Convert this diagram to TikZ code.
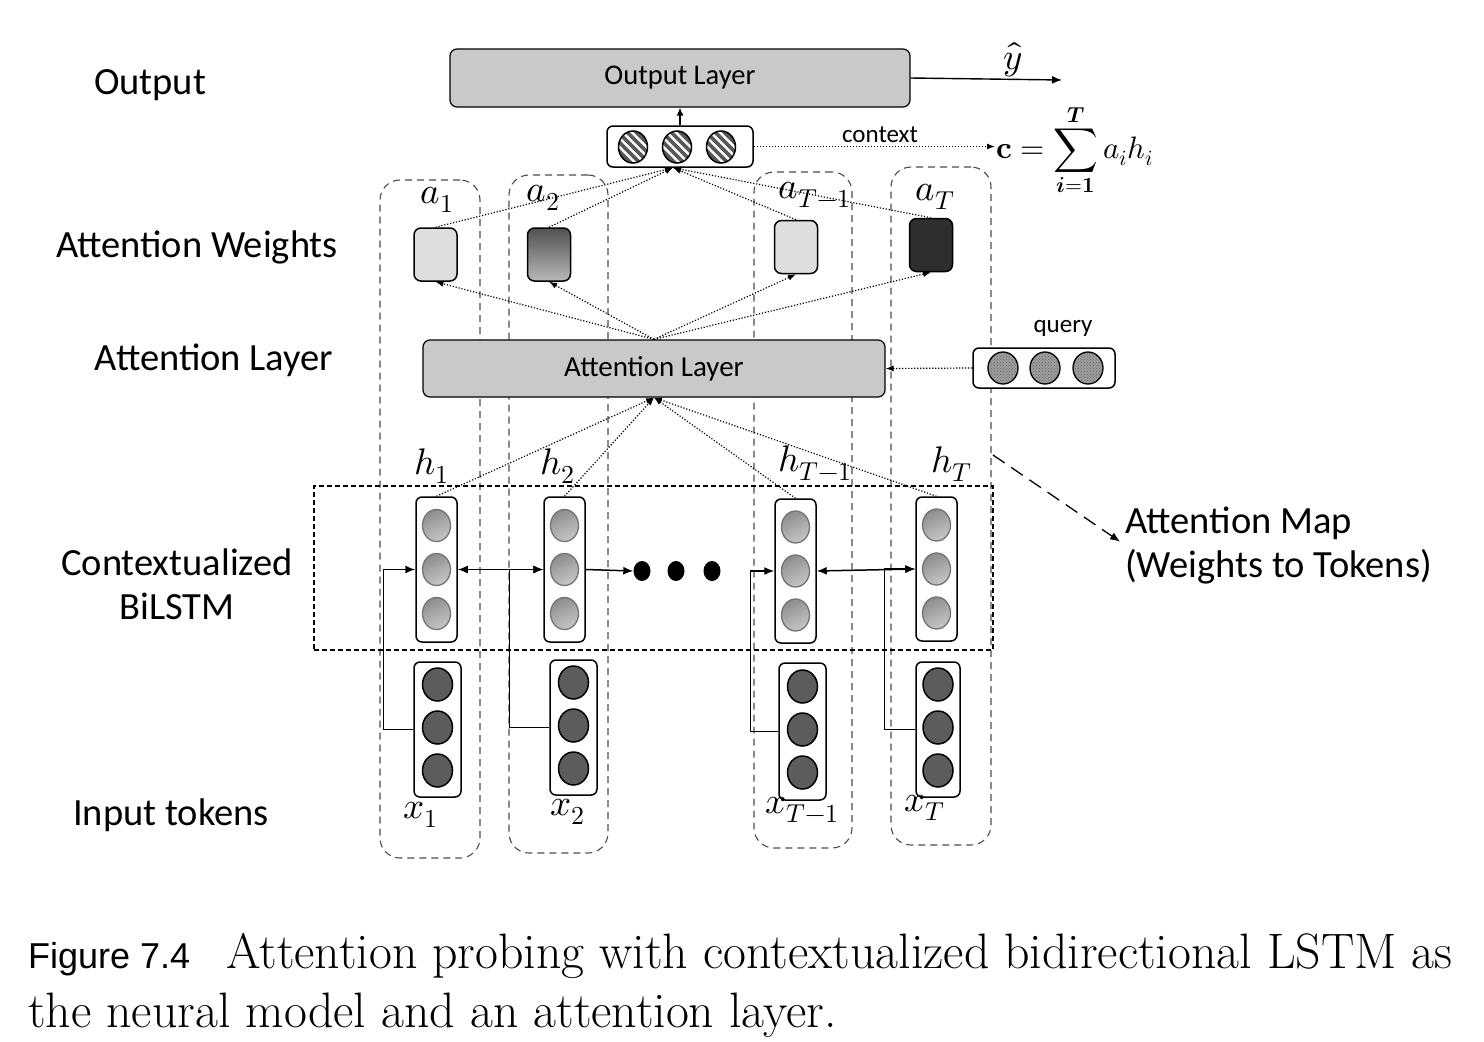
\documentclass[tikz,border=0pt]{standalone}
\usepackage{fontspec}
\usepackage{unicode-math}
\setmathfont{Latin Modern Math}
\newfontfamily\carl{Carlito}
\newfontfamily\helv{Liberation Sans}
\usetikzlibrary{arrows.meta,patterns,calc,shapes.geometric}
\definecolor{layergray}{HTML}{C9C9C9}
\definecolor{wlight}{HTML}{DEDEDE}
\definecolor{wdark}{HTML}{2E2E2E}
\definecolor{incirc}{HTML}{5C5C5C}
\begin{document}
\begin{tikzpicture}[x=1pt,y=-1pt,
  lbl/.style={font=\carl\fontsize{38.5}{44}\selectfont, align=center, inner sep=0pt},
  layer/.style={draw, line width=1.2pt, rounded corners=7pt, fill=layergray, inner sep=0pt},
  vecbox/.style={draw, line width=1.5pt, rounded corners=6pt, fill=white, inner sep=0pt},
  wbox/.style={draw, line width=1.5pt, rounded corners=7pt, inner sep=0pt, minimum width=43pt, minimum height=53pt},
  colbox/.style={draw=black!70, line width=1.1pt, dash pattern=on 7pt off 5pt, rounded corners=20pt, inner sep=0pt},
  mapbox/.style={draw, line width=1.5pt, dash pattern=on 5pt off 3pt, inner sep=0pt},
  dotarr/.style={line width=1.2pt, dash pattern=on 1.2pt off 1.8pt, -{Latex[length=8pt,width=6pt]}},
  solarr/.style={line width=1.5pt, -{Latex[length=10pt,width=8pt]}},
  dblarr/.style={line width=1.5pt, {Latex[length=10pt,width=8pt]}-{Latex[length=10pt,width=8pt]}},
  mlbl/.style={font=\fontsize{37}{42}\selectfont, inner sep=0pt},
  dotn/.style={ellipse, fill=black, inner sep=0pt, minimum width=17pt, minimum height=20pt},
  hcirc/.style={draw=black!55, line width=1.3pt, top color=black!45, bottom color=black!22, shading angle=25},
  icirc/.style={draw=black, line width=1.5pt, fill=incirc},
]
\useasboundingbox (0,0) rectangle (1484,1042);

% dashed columns
\node[colbox, minimum width=100pt, minimum height=678pt] (col1) at (430,519) {};
\node[colbox, minimum width=99pt, minimum height=678pt] (col2) at (558.5,514) {};
\node[colbox, minimum width=98pt, minimum height=676pt] (col3) at (803,510) {};
\node[colbox, minimum width=100pt, minimum height=678pt] (col4) at (941,506) {};

% BiLSTM frame
\node[mapbox, minimum width=679pt, minimum height=164pt] (bilstm) at (653.5,568) {};

% left labels
\node[lbl] (lout) at (150,85) {Output};
\node[lbl] (lattw) at (197,247) {Attention Weights};
\node[lbl] (lattl) at (214,360) {Attention Layer};
\node[lbl] (lctx) at (177,584) {Contextualized\\BiLSTM};
\node[lbl] (lin) at (171,815) {Input tokens};

% output layer
\node[layer, minimum width=460pt, minimum height=58pt, font=\carl\fontsize{28.5}{34}\selectfont] (outl) at (680,78) {Output Layer};
\node[mlbl] (yhat) at (1013,60) {$\hat{y}$};
\coordinate (yend) at (1062,80);
\draw[solarr, line width=1.4pt] (outl.east) -- (yend);

% context vector
\node[vecbox, minimum width=146pt, minimum height=41pt] (ctx) at (680,146.5) {};
\foreach \cx in {633,677,721}{
  \begin{scope}
    \clip (\cx,147) ellipse [x radius=14.5, y radius=16];
    \fill[white] (\cx-20,127) rectangle (\cx+20,167);
    \foreach \k in {-5,...,5}
      \draw[line width=3.6pt, black!65] (\cx+\k*9-25,122) -- ++(50,50);
  \end{scope}
  \draw[line width=1.5pt] (\cx,147) ellipse [x radius=14.5, y radius=16];
}
\draw[solarr, line width=1.4pt, -{Latex[length=8pt,width=7pt]}] (ctx.north) -- (outl.south);
\coordinate (ctxin) at ($(ctx.south)+(-7,0)$);

% formula
\node[anchor=base west, font=\fontsize{31}{36}\selectfont, inner sep=1pt] (form) at (995,158) {$\symbf{c} = \displaystyle\sum_{\symbfit{i}=\symbf{1}}^{\symbfit{T}} a_i h_i$};
\node[font=\carl\fontsize{25}{30}\selectfont, inner sep=0pt] (ctxlbl) at (880,135) {context};
\draw[dotarr] (ctx.east) -- (ctx.east -| form.west);

% attention weights
\node[mlbl] (la1) at (437,200) {$a_1$};
\node[mlbl] (la2) at (543,198) {$a_2$};
\node[mlbl] (la3) at (815,195) {$a_{T-1}$};
\node[mlbl] (la4) at (935,197) {$a_T$};
\node[wbox, fill=wlight] (w1) at (435.5,254.5) {};
\node[wbox, top color=black!68, bottom color=black!28] (w2) at (549,254.5) {};
\node[wbox, fill=wlight] (w3) at (796,247) {};
\node[wbox, fill=wdark] (w4) at (931,245) {};
\foreach \w in {w1,w2,w3,w4} \draw[dotarr] (\w.north) -- (ctxin);

% attention layer
\node[layer, minimum width=462pt, minimum height=57pt, font=\carl\fontsize{29}{34}\selectfont] (attl) at (654,368.5) {Attention Layer};
\foreach \w in {w1,w2,w3,w4} \draw[dotarr] (attl.north) -- (\w.south);

% query
\node[font=\carl\fontsize{25}{30}\selectfont, inner sep=0pt] (qlbl) at (1063,328) {query};
\node[vecbox, minimum width=142pt, minimum height=40pt] (qbox) at (1044,368) {};
\foreach \cx in {1003,1045,1088}{
  \fill[black!38] (\cx,368) ellipse [x radius=15, y radius=16];
  \fill[pattern=crosshatch dots, pattern color=black!62] (\cx,368) ellipse [x radius=15, y radius=16];
  \draw[line width=1.3pt] (\cx,368) ellipse [x radius=15, y radius=16];
}
\draw[dotarr] (qbox.west) -- (attl.east);

% hidden states
\node[mlbl] (lh1) at (432,466) {$h_1$};
\node[mlbl] (lh2) at (558,466) {$h_2$};
\node[mlbl] (lh3) at (815,463) {$h_{T-1}$};
\node[mlbl] (lh4) at (952,464) {$h_T$};
\node[vecbox, minimum width=41pt, minimum height=145pt] (h1) at (436.5,569.5) {};
\node[vecbox, minimum width=41pt, minimum height=145pt] (h2) at (564.5,569.5) {};
\node[vecbox, minimum width=41pt, minimum height=144pt] (h3) at (795.5,571) {};
\node[vecbox, minimum width=41pt, minimum height=144pt] (h4) at (936.5,569) {};
\foreach \h in {h1,h2,h3,h4}{
  \foreach \dy in {-44,0,44}
    \path[hcirc] ($(\h.center)+(0,\dy)$) ellipse [x radius=14, y radius=16];
  \draw[dotarr] (\h.north) -- (attl.south);
}

% recurrent connections
\node[dotn] (d1) at (642,571) {};
\node[dotn] (d2) at (676,571) {};
\node[dotn] (d3) at (712,571) {};
\draw[dblarr] (h1.east) -- (h2.west);
\draw[solarr] (h2.east) -- (d1.west);
\draw[dblarr] (h3.east) -- (h4.west);

% inputs
\node[vecbox, minimum width=47pt, minimum height=135pt] (x1) at (437.5,729.5) {};
\node[vecbox, minimum width=47pt, minimum height=135pt] (x2) at (573.5,727.5) {};
\node[vecbox, minimum width=47pt, minimum height=137pt] (x3) at (802.5,731.5) {};
\node[vecbox, minimum width=44pt, minimum height=135pt] (x4) at (938,729.5) {};
\foreach \x in {x1,x2,x3,x4}
  \foreach \dy in {-45,-2,41}
    \path[icirc] ($(\x.center)+(0,\dy)$) ellipse [x radius=15, y radius=16.5];
\draw[solarr] (x1.west) -- ++(-30,0) |- (h1.west);
\draw[solarr] (x2.west) -- ++(-40,0) |- (h2.west);
\draw[solarr] (x3.west) -- ++(-28,0) |- (h3.west);
\draw[solarr] (x4.west) -- ++(-31,0) |- (h4.west);
\node[mlbl] (lx1) at (421,815) {$x_1$};
\node[mlbl] (lx2) at (568,812) {$x_2$};
\node[mlbl] (lx3) at (802,810) {$x_{T-1}$};
\node[mlbl] (lx4) at (925,808) {$x_T$};

% attention map
\coordinate (amstart) at (993,455);
\node[lbl, anchor=west, align=left] (amap) at (1125,545) {Attention Map\\(Weights to Tokens)};
\draw[line width=1.3pt, dash pattern=on 14pt off 8pt, -{Latex[length=10pt,width=8pt]}, shorten >=6pt] (amstart) -- (amap.west);

% caption
\node[anchor=base west, inner sep=0pt, font=\helv\fontsize{36}{42}\selectfont] (fig) at (28,968) {Figure 7.4};
\node[anchor=base west, inner sep=0pt, font=\fontsize{49.8}{56}\selectfont] (cap1) at (226,968) {Attention probing with contextualized bidirectional LSTM as};
\node[anchor=base west, inner sep=0pt, font=\fontsize{49.8}{56}\selectfont] (cap2) at (28,1027) {the neural model and an attention layer.};
\end{tikzpicture}
\end{document}
